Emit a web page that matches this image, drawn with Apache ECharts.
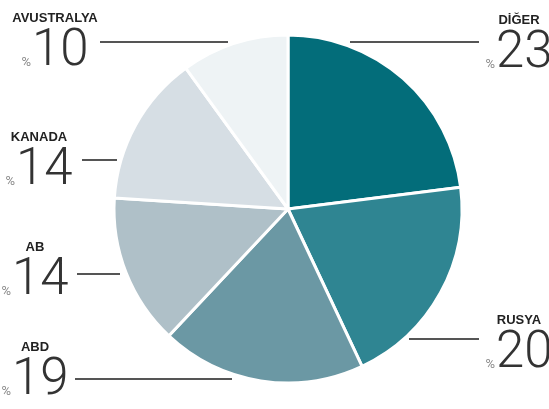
<!DOCTYPE html>
<html><head><meta charset="utf-8">
<style>html,body{margin:0;padding:0;background:#fff}#c{width:549px;height:409px}</style>
<script src="https://cdn.jsdelivr.net/npm/echarts@6/dist/echarts.min.js"></script>
</head><body><div id="c"></div>
<script>
// Data
var names = ['DİĞER', 'RUSYA', 'ABD', 'AB', 'KANADA', 'AVUSTRALYA'];
var shares = [23, 20, 19, 14, 14, 10];
var colors = ['#036d7a', '#2f8592', '#6b98a4', '#afc0c8', '#d6dee4', '#eef3f5'];

// Label layout (positions only)
var labelPos = [
  {cx: 519, top: 13, lineY: 42, x1: 350, x2: 479},
  {cx: 519, top: 313, lineY: 339, x1: 409, x2: 479},
  {cx: 35, top: 340, lineY: 379, x1: 75, x2: 232},
  {cx: 35, top: 240, lineY: 274, x1: 77, x2: 120},
  {cx: 39, top: 130, lineY: 160, x1: 82, x2: 117},
  {cx: 55, top: 11, lineY: 42, x1: 100, x2: 228}
];

var chart = echarts.init(document.getElementById('c'), null, {renderer: 'canvas'});
var data = names.map(function (n, i) {
  return {name: n, value: shares[i], itemStyle: {color: colors[i]}};
});
var nameFont = '"Liberation Sans", Arial, sans-serif';
var numFont = 'Roboto, "Liberation Sans", sans-serif';
chart.setOption({
  animation: false,
  series: [{
    type: 'pie',
    center: [288, 209],
    radius: 174,
    startAngle: 90,
    clockwise: true,
    data: data,
    itemStyle: {borderColor: '#ffffff', borderWidth: 3},
    label: {
      show: true,
      overflow: 'none',
      formatter: function (p) { return '{n|' + p.name + '}\n{p|%}{v|' + p.value + '}'; },
      rich: {
        n: {fontFamily: nameFont, fontWeight: 'bold', fontSize: 13, color: '#222222', lineHeight: 15},
        p: {fontFamily: numFont, fontSize: 13, color: '#8a8a8a', lineHeight: 52, verticalAlign: 'bottom', padding: [0, 1, 9, 0]},
        v: {fontFamily: numFont, fontWeight: 300, fontSize: 51, color: '#333333', lineHeight: 52, verticalAlign: 'bottom'}
      }
    },
    labelLine: {show: true, lineStyle: {color: '#555555', width: 2}},
    labelLayout: function (params) {
      var L = labelPos[params.dataIndex];
      return {
        x: L.cx, y: L.top, align: 'center', verticalAlign: 'top',
        labelLinePoints: [[L.x1, L.lineY], [(L.x1 + L.x2) / 2, L.lineY], [L.x2, L.lineY]]
      };
    },
    emphasis: {disabled: true}
  }]
});
</script></body></html>
